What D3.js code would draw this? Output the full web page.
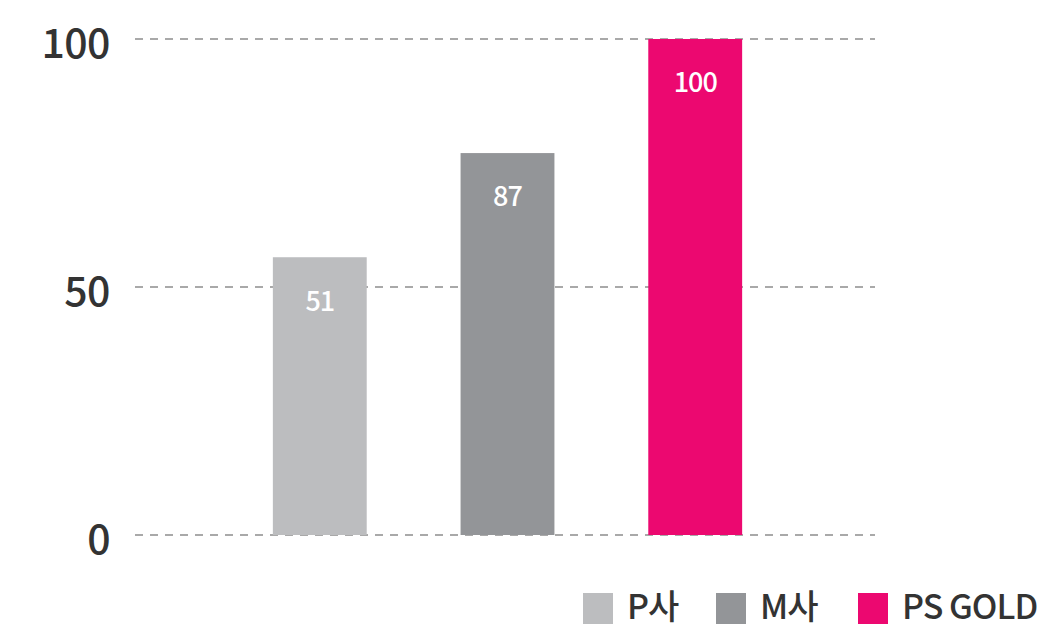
<!DOCTYPE html>
<html>
<head>
<meta charset="utf-8">
<script src="https://cdn.jsdelivr.net/npm/d3@7"></script>
<style>
  html, body { margin: 0; padding: 0; background: #fff; }
  svg text { font-family: "Noto Sans CJK KR", "Noto Sans", sans-serif; }
</style>
</head>
<body>
<svg id="chart" width="1048" height="634"></svg>
<script>
// categories and values
const categories = ["P사", "M사", "PS GOLD"];
// bar heights as drawn (the printed labels differ from the drawn height)
const barValues = [56, 77, 100];
const valueLabels = ["51", "87", "100"];
const yTicks = [0, 50, 100];
const colors = ["#bcbdbf", "#939598", "#ec0870"];

const svg = d3.select("#chart");

const x = d3.scaleBand()
  .domain(categories)
  .range([179, 836])
  .paddingInner(0.5)
  .paddingOuter(0.5);

const y = d3.scaleLinear()
  .domain([0, 100])
  .range([535, 39]);

// dashed grid lines
svg.append("g")
  .selectAll("line")
  .data(yTicks)
  .enter().append("line")
  .attr("x1", 135)
  .attr("x2", 875)
  .attr("y1", d => y(d))
  .attr("y2", d => y(d))
  .attr("stroke", "#a9a9a9")
  .attr("stroke-width", 2)
  .attr("stroke-dasharray", "8,7");

// tick labels
svg.append("g")
  .selectAll("text")
  .data(yTicks)
  .enter().append("text")
  .attr("x", 110)
  .attr("y", d => y(d) + 8)
  .attr("text-anchor", "end")
  .attr("dominant-baseline", "middle")
  .attr("font-size", 41)
  .attr("font-weight", 500)
  .attr("letter-spacing", -0.5)
  .attr("fill", "#333333")
  .text(d => d);

// bars
svg.append("g")
  .selectAll("rect")
  .data(categories)
  .enter().append("rect")
  .attr("x", d => x(d))
  .attr("y", (d, i) => y(barValues[i]))
  .attr("width", x.bandwidth())
  .attr("height", (d, i) => y(0) - y(barValues[i]))
  .attr("fill", (d, i) => colors[i]);

// value labels inside bars
svg.append("g")
  .selectAll("text")
  .data(categories)
  .enter().append("text")
  .attr("x", d => x(d) + x.bandwidth() / 2)
  .attr("y", (d, i) => y(barValues[i]) + 46)
  .attr("text-anchor", "middle")
  .attr("dominant-baseline", "middle")
  .attr("font-size", 27)
  .attr("font-weight", 500)
  .attr("letter-spacing", -1)
  .attr("fill", "#ffffff")
  .text((d, i) => valueLabels[i]);

// legend
const legendX = [583, 716, 858];
const legend = svg.append("g")
  .selectAll("g")
  .data(categories)
  .enter().append("g")
  .attr("transform", (d, i) => "translate(" + legendX[i] + ",593)");

legend.append("rect")
  .attr("width", 30)
  .attr("height", 31)
  .attr("fill", (d, i) => colors[i]);

legend.append("text")
  .attr("x", 44)
  .attr("y", 17)
  .attr("dominant-baseline", "middle")
  .attr("font-size", 34)
  .attr("font-weight", 500)
  .attr("letter-spacing", -1)
  .attr("fill", "#333333")
  .text(d => d);
</script>
</body>
</html>
